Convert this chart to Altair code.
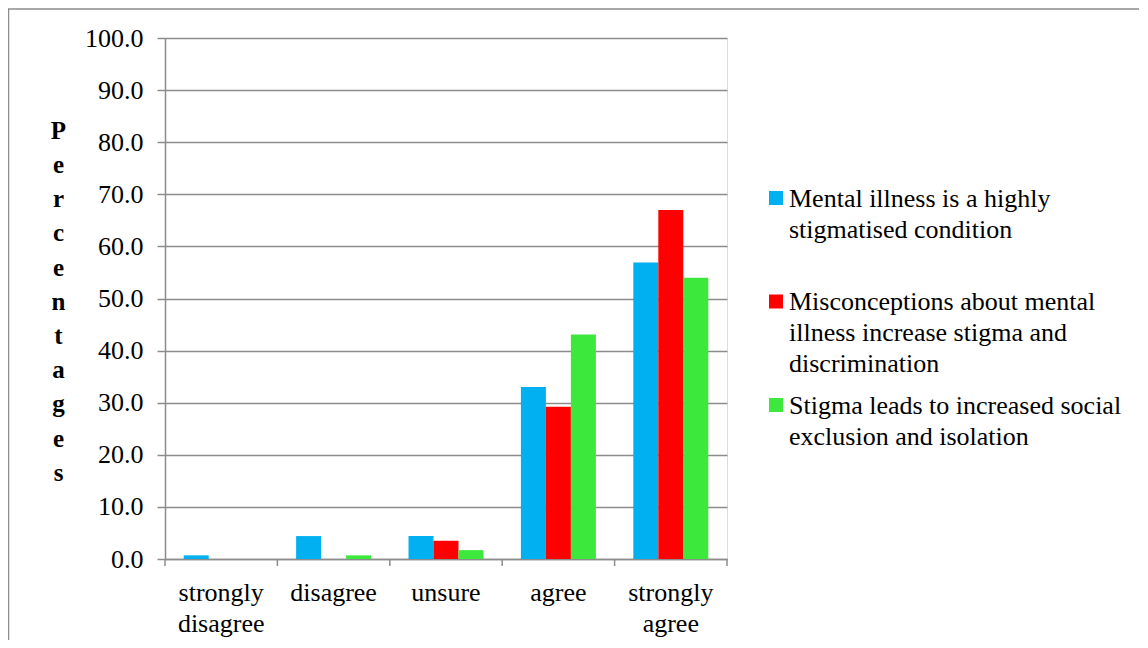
import altair as alt
import pandas as pd

categories = ["strongly disagree", "disagree", "unsure", "agree", "strongly agree"]
series = [
    "Mental illness is a highly stigmatised condition",
    "Misconceptions about mental illness increase stigma and discrimination",
    "Stigma leads to increased social exclusion and isolation",
]
legend_lines = [
    ["Mental illness is a highly", "stigmatised condition"],
    ["Misconceptions about mental", "illness increase stigma and", "discrimination"],
    ["Stigma leads to increased social", "exclusion and isolation"],
]
values_mental = [0.7, 4.4, 4.4, 33.0, 56.9]
values_misconceptions = [0.0, 0.0, 3.5, 29.2, 67.0]
values_stigma = [0.0, 0.7, 1.7, 43.1, 54.0]
colors = ["#00B0F0", "#FF0000", "#3CE83C"]
y_ticks = [0, 10, 20, 30, 40, 50, 60, 70, 80, 90, 100]
y_title = "Percentages"

rows = []
for s, vals in zip(series, [values_mental, values_misconceptions, values_stigma]):
    for c, v in zip(categories, vals):
        rows.append({"category": c, "series": s, "value": v})
df = pd.DataFrame(rows)

W, H = 562, 521
FONT = "Liberation Serif"
GRID = "#8c8c8c"
FS = 26
P_INNER = 0.333
STEP = W / len(categories)
color_scale = alt.Scale(domain=series, range=colors)
x_scale = alt.Scale(paddingInner=P_INNER, paddingOuter=P_INNER / 2)

bars = alt.Chart(df).mark_bar().encode(
    x=alt.X(
        "category:N",
        sort=categories,
        scale=x_scale,
        axis=alt.Axis(
            title=None,
            labelAngle=0,
            labelFont=FONT,
            labelFontSize=FS,
            labelColor="black",
            labelBaseline="alphabetic",
            labelLineHeight=31,
            labelPadding=41,
            labelExpr="split(datum.label, ' ')",
            ticks=False,
            tickSize=0,
            domainColor=GRID,
            domainWidth=1.5,
            grid=False,
        ),
    ),
    xOffset=alt.XOffset("series:N", sort=series),
    y=alt.Y(
        "value:Q",
        scale=alt.Scale(domain=[0, 100], nice=False),
        axis=alt.Axis(
            values=y_ticks,
            format=".1f",
            title=list(y_title),
            titleAngle=0,
            titleFont=FONT,
            titleFontSize=25,
            titleFontWeight="bold",
            titleLineHeight=34.2,
            titleBaseline="alphabetic",
            titleAlign="center",
            titleX=-107,
            titleY=100.3,
            labelFont=FONT,
            labelFontSize=FS,
            labelColor="black",
            labelPadding=14,
            tickSize=8,
            tickColor=GRID,
            tickWidth=1.5,
            domainColor=GRID,
            domainWidth=1.5,
            gridColor=GRID,
            gridWidth=1.5,
        ),
    ),
    color=alt.Color("series:N", sort=series, scale=color_scale, legend=None),
)

# category boundary ticks (Excel style, between categories)
cat_df = pd.DataFrame({"category": categories})
x_ticks = alt.Chart(cat_df).mark_rule(
    color=GRID, strokeWidth=1.5, xOffset=-P_INNER * STEP / 2
).encode(
    x=alt.X("category:N", sort=categories, bandPosition=0),
    y=alt.value(H),
    y2=alt.value(H + 7),
)
x_tick_end = alt.Chart(pd.DataFrame({"k": [0]})).mark_rule(
    color=GRID, strokeWidth=1.5
).encode(x=alt.value(W), y=alt.value(H), y2=alt.value(H + 7))

# manual legend (layout only)
LEG_X_SYM = 611
LEG_X_TXT = 624
LEG_Y0 = 160
LEG_STEP = 103.5
legend_layers = []
for i, (s, lines) in enumerate(zip(series, legend_lines)):
    d = pd.DataFrame({"series": [s]})
    yc = LEG_Y0 + i * LEG_STEP
    sym = alt.Chart(d).mark_square(size=196, opacity=1).encode(
        x=alt.value(LEG_X_SYM),
        y=alt.value(yc),
        color=alt.Color("series:N", scale=color_scale, legend=None),
    )
    txt = alt.Chart(d).mark_text(
        align="left", baseline="alphabetic", font=FONT, fontSize=FS,
        lineHeight=31, color="black",
    ).encode(x=alt.value(LEG_X_TXT), y=alt.value(yc + 8.5), text=alt.value(lines))
    legend_layers += [sym, txt]

border = alt.Chart(pd.DataFrame({"k": [0]})).mark_rect(
    fill=None, stroke=GRID, strokeWidth=1.5
).encode(
    x=alt.value(-156.5), x2=alt.value(2000), y=alt.value(-29), y2=alt.value(2000)
)

chart = alt.layer(border, bars, x_ticks, x_tick_end, *legend_layers).properties(
    width=W,
    height=H,
    autosize=alt.AutoSizeParams(type="none"),
    padding={"left": 157, "top": 30, "right": 412, "bottom": 81},
).configure_view(stroke=None).configure(background="white")

chart.save("out.html", embed_options={"renderer": "svg", "actions": False})
